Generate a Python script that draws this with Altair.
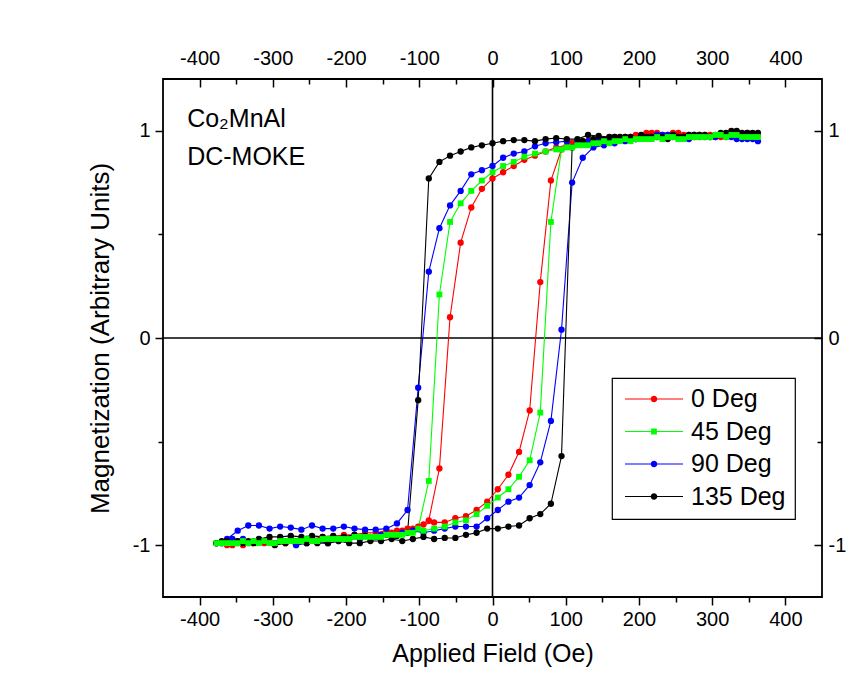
import altair as alt
import pandas as pd

SERIES = ["0 Deg", "45 Deg", "90 Deg", "135 Deg"]
COLORS = ["#ff0000", "#00ff00", "#0000ff", "#000000"]

# field values (Oe) of the descending branch (+H -> -H)
DESC_FIELD = [362.5, 348, 333.5, 319, 304.5, 290, 275.5, 261, 246.5, 232,
              217.5, 203, 188.5, 174, 159.5, 145, 130.5, 116, 101.5, 87,
              72.5, 58, 43.5, 29, 14.5, 0, -14.5, -29, -43.5, -58,
              -72.5, -87, -101.5, -116, -130.5, -145, -159.5, -174, -188.5, -203,
              -217.5, -232, -246.5, -261, -275.5, -290, -304.5, -319, -333.5, -348,
              -362.5, -377]
# field values (Oe) of the ascending branch (-H -> +H)
ASC_FIELD = [-369.75, -355.25, -340.75, -326.25, -311.75, -297.25, -282.75, -268.25, -253.75, -239.25,
             -224.75, -210.25, -195.75, -181.25, -166.75, -152.25, -137.75, -123.25, -108.75, -94.25,
             -79.75, -65.25, -50.75, -36.25, -21.75, -7.25, 7.25, 21.75, 36.25, 50.75,
             65.25, 79.75, 94.25, 108.75, 123.25, 137.75, 152.25, 166.75, 181.25, 195.75,
             210.25, 224.75, 239.25, 253.75, 268.25, 282.75, 297.25, 311.75, 326.25, 340.75,
             355.25]

RED_DESC = [0.98, 0.99, 0.98, 0.98, 0.97, 0.98, 0.97, 0.98, 0.99, 0.98,
            0.99, 0.97, 0.97, 0.96, 0.96, 0.95, 0.95, 0.94, 0.93, 0.92,
            0.90, 0.88, 0.86, 0.83, 0.80, 0.77, 0.72, 0.63, 0.46, 0.10,
            -0.63, -0.88, -0.91, -0.92, -0.93, -0.93, -0.94, -0.94, -0.95, -0.95,
            -0.96, -0.96, -0.97, -0.97, -0.97, -0.98, -0.98, -0.98, -0.99, -0.99,
            -1.0, -0.99]
RED_ASC = [-0.99, -1.0, -1.0, -0.99, -0.99, -0.99, -0.99, -0.98, -0.98, -0.98,
           -0.97, -0.97, -0.97, -0.96, -0.96, -0.95, -0.94, -0.93, -0.92, -0.90,
           -0.89, -0.89, -0.87, -0.86, -0.83, -0.79, -0.73, -0.66, -0.55, -0.35,
           0.27, 0.76, 0.91, 0.94, 0.95, 0.96, 0.96, 0.97, 0.97, 0.98,
           0.99, 0.99, 0.98, 0.99, 0.98, 0.98, 0.98, 0.97, 0.98, 0.98,
           0.98]

GREEN_DESC = [0.97, 0.97, 0.98, 0.97, 0.98, 0.97, 0.97, 0.96, 0.97, 0.96,
              0.96, 0.96, 0.95, 0.95, 0.94, 0.94, 0.93, 0.93, 0.92, 0.91,
              0.90, 0.89, 0.875, 0.85, 0.83, 0.80, 0.76, 0.71, 0.65, 0.56,
              0.21, -0.69, -0.92, -0.94, -0.95, -0.95, -0.96, -0.96, -0.96, -0.97,
              -0.97, -0.97, -0.98, -0.98, -0.98, -0.98, -0.99, -0.99, -0.99, -0.99,
              -0.99, -0.99]
GREEN_ASC = [-0.99, -0.99, -0.98, -0.98, -0.98, -0.99, -0.98, -0.98, -0.97, -0.98,
             -0.97, -0.97, -0.97, -0.96, -0.96, -0.96, -0.95, -0.95, -0.94, -0.93,
             -0.92, -0.91, -0.89, -0.88, -0.85, -0.81, -0.77, -0.73, -0.67, -0.59,
             -0.36, 0.56, 0.91, 0.92, 0.93, 0.94, 0.95, 0.95, 0.96, 0.96,
             0.96, 0.97, 0.97, 0.96, 0.97, 0.97, 0.97, 0.98, 0.98, 0.97,
             0.97]

BLUE_DESC = [0.95, 0.96, 0.96, 0.97, 0.97, 0.97, 0.98, 0.97, 0.97, 0.98,
             0.97, 0.97, 0.96, 0.96, 0.96, 0.95, 0.95, 0.95, 0.95, 0.945,
             0.94, 0.925, 0.90, 0.89, 0.87, 0.83, 0.81, 0.79, 0.71, 0.64,
             0.53, 0.32, -0.24, -0.83, -0.895, -0.92, -0.925, -0.925, -0.92, -0.91,
             -0.92, -0.92, -0.905, -0.925, -0.915, -0.91, -0.92, -0.905, -0.905, -0.93,
             -0.97, -0.99]
BLUE_ASC = [-0.99, -0.97, -0.97, -0.98, -0.98, -0.99, -0.98, -1.0, -0.99, -0.98,
            -0.99, -0.98, -0.97, -0.97, -0.96, -0.95, -0.95, -0.94, -0.93, -0.94,
            -0.93, -0.92, -0.91, -0.91, -0.91, -0.87, -0.83, -0.79, -0.77, -0.71,
            -0.60, -0.40, 0.04, 0.75, 0.87, 0.92, 0.93, 0.94, 0.95, 0.96,
            0.97, 0.98, 0.98, 0.97, 0.96, 0.97, 0.97, 0.98, 0.97, 0.96,
            0.96]

BLACK_DESC = [0.99, 0.99, 1.0, 0.99, 0.98, 0.98, 0.98, 0.97, 0.98, 0.97,
              0.97, 0.98, 0.97, 0.97, 0.97, 0.975, 0.98, 0.96, 0.96, 0.965,
              0.96, 0.95, 0.955, 0.955, 0.95, 0.94, 0.93, 0.92, 0.90, 0.88,
              0.85, 0.77, -0.30, -0.94, -0.955, -0.95, -0.96, -0.955, -0.95, -0.96,
              -0.955, -0.96, -0.955, -0.96, -0.955, -0.96, -0.96, -0.97, -0.98, -0.98,
              -0.98, -0.99]
BLACK_ASC = [-0.98, -0.99, -0.99, -0.99, -0.98, -1.0, -0.99, -0.98, -0.99, -0.99,
             -0.99, -0.98, -0.99, -0.99, -0.98, -0.98, -0.97, -0.98, -0.97, -0.96,
             -0.97, -0.965, -0.965, -0.95, -0.94, -0.92, -0.92, -0.91, -0.905, -0.87,
             -0.85, -0.80, -0.57, 0.92, 0.95, 0.96, 0.96, 0.97, 0.97, 0.96,
             0.97, 0.97, 0.96, 0.97, 0.98, 0.98, 0.97, 0.99, 1.0, 0.99,
             0.99]

BRANCHES = {
    "0 Deg": (RED_DESC, RED_ASC),
    "45 Deg": (GREEN_DESC, GREEN_ASC),
    "90 Deg": (BLUE_DESC, BLUE_ASC),
    "135 Deg": (BLACK_DESC, BLACK_ASC),
}

X_TICKS = [-400, -350, -300, -250, -200, -150, -100, -50, 0, 50, 100, 150, 200, 250, 300, 350, 400]
Y_TICKS = [-1, -0.5, 0, 0.5, 1]
NOTES = ["Co\u2082MnAl", "DC-MOKE"]
NOTE_X = [-417, -417]
NOTE_Y = [1.02, 0.835]

rows = []
for s in SERIES:
    d, a = BRANCHES[s]
    k = 0
    for f, m in zip(DESC_FIELD, d):
        rows.append({"series": s, "H": f, "M": m, "i": k}); k += 1
    for f, m in zip(ASC_FIELD, a):
        rows.append({"series": s, "H": f, "M": m, "i": k}); k += 1
df = pd.DataFrame(rows)

FONT = "Liberation Sans"
W, H = 659, 518

xs = alt.Scale(domain=[-450, 450], nice=False, zero=False)
ys = alt.Scale(domain=[-1.25, 1.25], nice=False, zero=False)
cs = alt.Scale(domain=SERIES, range=COLORS)

XLAB = "datum.value % 100 === 0 ? '' + datum.value : ''"
YLAB = "datum.value % 1 === 0 ? '' + datum.value : ''"
XTS = {"condition": {"test": "datum.value % 100 === 0", "value": 8}, "value": 5}
YTS = {"condition": {"test": "datum.value % 1 === 0", "value": 8}, "value": 5}

common_ax = dict(grid=False, domain=False, labelFont=FONT, labelColor="black",
                 labelFontSize=20, labelOverlap=False, labelFlush=False,
                 tickColor="black", tickWidth=1.5)

def xn():
    return alt.X("H:Q", scale=xs, axis=None)

def yn():
    return alt.Y("M:Q", scale=ys, axis=None)

LINE_DOT = ("M-1,-0.02L-0.1,-0.02L-0.1,0.02L-1,0.02Z M0.1,-0.02L1,-0.02L1,0.02L0.1,0.02Z "
            "M0.115,0A0.115,0.115 0 1,1 -0.115,0A0.115,0.115 0 1,1 0.115,0Z")
LINE_SQ = ("M-1,-0.02L-0.1,-0.02L-0.1,0.02L-1,0.02Z M0.1,-0.02L1,-0.02L1,0.02L0.1,0.02Z "
           "M-0.1,-0.1L0.1,-0.1L0.1,0.1L-0.1,0.1Z")

# legend-only layer (no marks drawn): line + marker symbols
legend_layer = alt.Chart(df).transform_filter("false").mark_point(
    filled=True, opacity=1
).encode(
    x=xn(), y=yn(),
    color=alt.Color("series:N", scale=cs, legend=alt.Legend(
        title=None, orient="none", legendX=449, legendY=299,
        symbolSize=3364, clipHeight=24, rowPadding=7.5, padding=9,
        symbolOffset=4, labelOffset=8, symbolStrokeWidth=0, symbolOpacity=1,
        labelFont=FONT, labelFontSize=25, labelColor="black",
        strokeColor="black", fillColor="white")),
    shape=alt.Shape("series:N", scale=alt.Scale(domain=SERIES,
                    range=[LINE_DOT, LINE_SQ, LINE_DOT, LINE_DOT])),
)

lines = alt.Chart(df).mark_line(strokeWidth=1.1).encode(
    x=alt.X("H:Q", scale=xs, axis=alt.Axis(
        orient="bottom", values=X_TICKS, labelExpr=XLAB, tickSize=XTS,
        labelPadding=4, title="Applied Field (Oe)", titleFont=FONT, titleFontSize=25,
        titleFontWeight="normal", titleColor="black", titlePadding=12, **common_ax)),
    y=alt.Y("M:Q", scale=ys, axis=alt.Axis(
        orient="left", values=Y_TICKS, labelExpr=YLAB, tickSize=YTS,
        labelPadding=5, title="Magnetization (Arbitrary Units)", titleFont=FONT,
        titleFontSize=26, titleFontWeight="normal", titleColor="black",
        titlePadding=19, **common_ax)),
    color=alt.Color("series:N", scale=cs, legend=None),
    order=alt.Order("i:Q"),
)

circles = alt.Chart(df).transform_filter("datum.series !== '45 Deg'").mark_point(
    filled=True, shape="circle", size=40, opacity=1
).encode(x=xn(), y=yn(), color=alt.Color("series:N", scale=cs, legend=None))

squares = alt.Chart(df).transform_filter("datum.series === '45 Deg'").mark_point(
    filled=True, shape="square", size=34, opacity=1
).encode(x=xn(), y=yn(), color=alt.Color("series:N", scale=cs, legend=None))

zero = pd.DataFrame({"H": [0], "M": [0]})
vrule = alt.Chart(zero).mark_rule(color="black", strokeWidth=1.6).encode(x=xn())
hrule = alt.Chart(zero).mark_rule(color="black", strokeWidth=1.6).encode(y=yn())

# top / right labelled axes
top_right = alt.Chart(zero).mark_point(opacity=0).encode(
    x=alt.X("H:Q", scale=xs, axis=alt.Axis(orient="top", values=X_TICKS, labelExpr=XLAB,
            ticks=False, labelPadding=11, title=None, **common_ax)),
    y=alt.Y("M:Q", scale=ys, axis=alt.Axis(orient="right", values=Y_TICKS, labelExpr=YLAB,
            ticks=False, labelPadding=6, title=None, **common_ax)),
)
# inward ticks on top and right edges
inner_ticks = alt.Chart(zero).mark_point(opacity=0).encode(
    x=alt.X("H:Q", scale=xs, axis=alt.Axis(orient="bottom", offset=-H, values=X_TICKS,
            labels=False, tickSize=XTS, title=None, grid=False, domain=False,
            tickColor="black", tickWidth=1.5)),
    y=alt.Y("M:Q", scale=ys, axis=alt.Axis(orient="left", offset=-W, values=Y_TICKS,
            labels=False, tickSize=YTS, title=None, grid=False, domain=False,
            tickColor="black", tickWidth=1.5)),
)

notes_df = pd.DataFrame({"H": NOTE_X, "M": NOTE_Y, "t": NOTES})
notes = alt.Chart(notes_df).mark_text(
    align="left", baseline="alphabetic", font=FONT, fontSize=25, color="black"
).encode(x=xn(), y=yn(), text="t:N")

chart = alt.layer(
    legend_layer, vrule, hrule, lines, circles, squares, top_right, inner_ticks, notes
).resolve_axis(x="independent", y="independent").properties(
    width=W, height=H,
    autosize=alt.AutoSizeParams(type="none"),
    padding={"left": 155, "top": 71, "right": 26, "bottom": 72},
).configure_view(stroke="black", strokeWidth=1.8).configure_legend(strokeWidth=1.2)

chart.save("out.html", embed_options={"renderer": "svg", "actions": False})
